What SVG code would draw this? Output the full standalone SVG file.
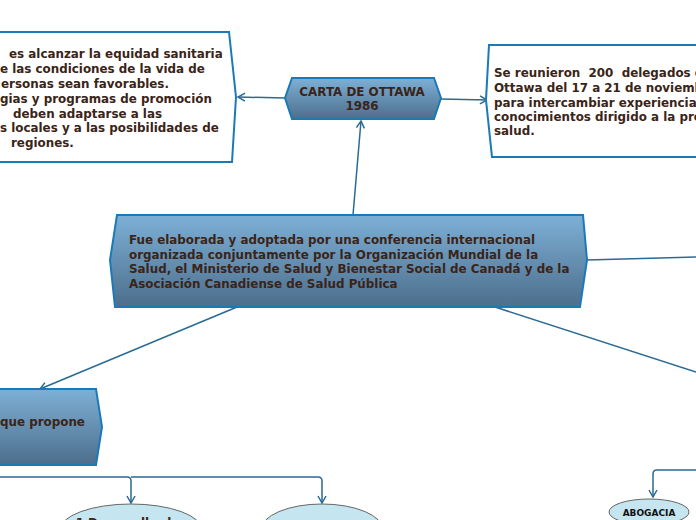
<svg xmlns="http://www.w3.org/2000/svg" width="696" height="520" viewBox="0 0 696 520">
<defs>
<linearGradient id="g" x1="0" y1="0" x2="0" y2="1"><stop offset="0" stop-color="#7db0d6"/><stop offset="1" stop-color="#4d6e8c"/></linearGradient>
<marker id="a" markerWidth="10" markerHeight="10" refX="8" refY="5" orient="auto" markerUnits="userSpaceOnUse"><path d="M1,1 L8,5 L1,9" fill="none" stroke="#2a6a94" stroke-width="1.5"/></marker>
</defs>
<style>
text{font-family:"DejaVu Sans",sans-serif;font-weight:bold;font-size:11.9px;fill:#3a2418;white-space:pre}
.n{fill:url(#g);stroke:#1a7ab8;stroke-width:2}
.b{fill:#fff;stroke:#1a7ab8;stroke-width:2}
.e{fill:#c5e5f0;stroke:#666;stroke-width:1}
.c{fill:none;stroke:#2a6a94;stroke-width:1.5}
</style>
<g id="connectors">
<path class="c" d="M353,215 L361,121" marker-end="url(#a)"/>
<path class="c" d="M285,98 L238,97" marker-end="url(#a)"/>
<path class="c" d="M441,99 L487,100" marker-end="url(#a)"/>
<path class="c" d="M587,260 L696,257"/>
<path class="c" d="M237,307 L40,389" marker-end="url(#a)"/>
<path class="c" d="M495,307 L696,372"/>
<path class="c" d="M0,477 L127,477 Q131,477 131,481 L131,503" marker-end="url(#a)"/>
<path class="c" d="M131,477 L318,477 Q322,477 322,481 L322,503" marker-end="url(#a)"/>
<path class="c" d="M696,470 L657,470 Q653,470 653,474 L653,497" marker-end="url(#a)"/>
</g>
<g id="left-box">
<path class="b" d="M-5,32 L229,32 L236,97 L232,162 L-5,162 Z"/>
<text x="9" y="58">es alcanzar la equidad sanitaria</text>
<text x="0" y="73">e las condiciones de la vida de</text>
<text x="1" y="88">ersonas sean favorables.</text>
<text x="0" y="103">gias y programas de promoción</text>
<text x="13" y="118">deben adaptarse a las</text>
<text x="0" y="132">s locales y a las posibilidades de</text>
<text x="11" y="147">regiones.</text>
</g>
<g id="carta">
<path class="n" d="M292,78 L434,78 L441,98 L434,119 L292,119 L285,98 Z"/>
<text x="362" y="96" text-anchor="middle">CARTA DE OTTAWA</text>
<text x="362" y="110" text-anchor="middle">1986</text>
</g>
<g id="right-box">
<path class="b" d="M489,45 L700,45 L700,157 L492,157 L486,100 Z"/>
<text x="494" y="77">Se reunieron  200  delegados de</text>
<text x="494" y="92">Ottawa del 17 a 21 de noviembre</text>
<text x="494" y="107">para intercambiar experiencias y</text>
<text x="494" y="121">conocimientos dirigido a la promoción de la</text>
<text x="494" y="135">salud.</text>
</g>
<g id="central">
<path class="n" d="M117,215 L583,215 L587,260 L580,307 L115,307 L110,260 Z"/>
<text x="129" y="244">Fue elaborada y adoptada por una conferencia internacional</text>
<text x="129" y="259">organizada conjuntamente por la Organización Mundial de la</text>
<text x="129" y="273">Salud, el Ministerio de Salud y Bienestar Social de Canadá y de la</text>
<text x="129" y="288">Asociación Canadiense de Salud Pública</text>
</g>
<g id="propone">
<path class="n" d="M-5,389 L96,389 L102,427 L96,465 L-5,465 Z"/>
<text x="0" y="426">que propone</text>
</g>
<g id="e1"><ellipse class="e" cx="131" cy="530" rx="71" ry="26"/><text x="131" y="527" text-anchor="middle">1 Desarrollar las</text></g>
<g id="e2"><ellipse class="e" cx="322" cy="530" rx="61" ry="26"/></g>
<g id="abogacia"><ellipse class="e" cx="649" cy="512" rx="40" ry="13"/><text x="649" y="516" text-anchor="middle" style="fill:#111;font-size:9px">ABOGACIA</text></g>
</svg>
